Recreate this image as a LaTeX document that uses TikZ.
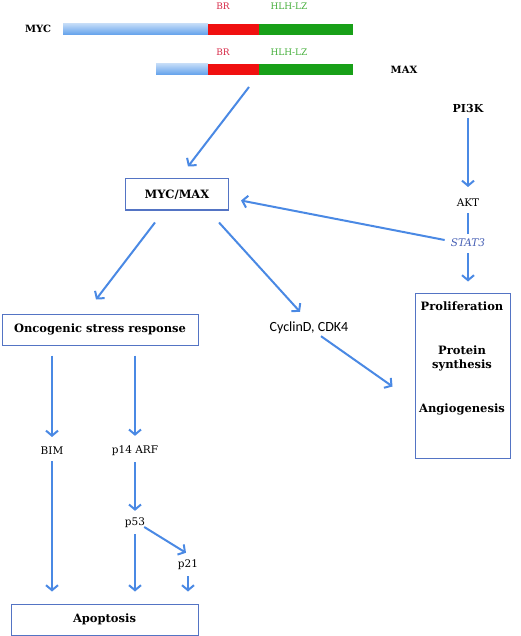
\documentclass[tikz,border=0pt]{standalone}
\usepackage{fontspec}
\setmainfont{DejaVu Serif}
\newfontfamily\calfont{Carlito}
\usetikzlibrary{arrows.meta,calc}
\definecolor{arrblue}{RGB}{74,137,228}
\definecolor{boxblue}{RGB}{84,116,196}
\definecolor{barblue}{RGB}{96,160,235}
\definecolor{barred}{RGB}{240,16,16}
\definecolor{bargreen}{RGB}{24,160,24}
\definecolor{brred}{RGB}{214,40,70}
\definecolor{hlhgreen}{RGB}{70,175,60}
\definecolor{statblue}{RGB}{70,95,180}
\begin{document}
\begin{tikzpicture}[x=1pt,y=-1pt,
  every node/.style={font=\fontsize{10.5}{12}\selectfont, inner sep=2pt},
  arr/.style={draw=arrblue, line width=2pt, -{Straight Barb[length=5pt,width=12pt]}},
  lnk/.style={draw=arrblue, line width=2pt},
  box/.style={draw=boxblue, line width=1pt, minimum height=31pt},
  hd/.style={font=\fontsize{11.5}{14}\selectfont\bfseries}]
\useasboundingbox (0,0) rectangle (520,636);
% bars
\shade[top color=barblue!40!white, bottom color=barblue] (63,24) rectangle (208,35);
\fill[barred] (208,24) rectangle (259,35);
\fill[bargreen] (259,24) rectangle (353,35);
\shade[top color=barblue!40!white, bottom color=barblue] (156,64) rectangle (208,75);
\fill[barred] (208,64) rectangle (259,75);
\fill[bargreen] (259,64) rectangle (353,75);
\node[font=\fontsize{10}{12}\selectfont\bfseries] (myc) at (38,29) {MYC};
\node[font=\fontsize{10}{12}\selectfont\bfseries] (max) at (404,70) {MAX};
\node[text=brred, font=\fontsize{9}{11}\selectfont] (brA) at (223,6) {BR};
\node[text=hlhgreen, font=\fontsize{9}{11}\selectfont] (hlhA) at (289,6) {HLH-LZ};
\node[text=brred, font=\fontsize{9}{11}\selectfont] (brB) at (223,52) {BR};
\node[text=hlhgreen, font=\fontsize{9}{11}\selectfont] (hlhB) at (289,52) {HLH-LZ};
\coordinate (maxbar) at (249,87);
% nodes
\node[box, minimum width=103pt, font=\fontsize{11.5}{14}\selectfont\bfseries] (mycmax) at (177,194.5) {MYC/MAX};
\node[font=\fontsize{11}{13}\selectfont\bfseries] (pik) at (468,108) {PI3K};
\node (akt) at (468,203) {AKT};
\node[text=statblue, font=\fontsize{10.5}{12}\selectfont\itshape] (stat) at (468,243) {STAT3};
\node[box, minimum width=95pt, minimum height=165pt] (prolif) at (462.5,375.5) {};
\node[hd] (pro) at (462,306) {Proliferation};
\node[hd, align=center] (prot) at (462,358) {Protein\\synthesis};
\node[hd] (ang) at (462,409) {Angiogenesis};
\node[box, minimum width=196pt, hd] (osr) at (100,329.5) {Oncogenic stress response};
\node[font=\calfont\fontsize{14}{16}\selectfont] (cyc) at (309,328) {CyclinD, CDK4};
\node (bim) at (52,451) {BIM};
\node (arf) at (135,451) {p14 ARF};
\node (p53) at (135,523) {p53};
\node (p21) at (188,565) {p21};
\node[box, minimum width=187pt, hd] (apop) at (104.5,619.5) {Apoptosis};
% arrows
\draw[arr] (maxbar) -- ($(mycmax.north)+(11,-12)$);
\draw[arr] ($(pik.south)+(0,4)$) -- ($(akt.north)+(0,-10)$);
\draw[lnk] ($(akt.south)+(0,4)$) -- ($(stat.north)+(0,-3)$);
\draw[arr] ($(stat.west)+(-4,-3)$) -- ($(mycmax.east)+(12,6)$);
\draw[arr] ($(stat.south)+(0,4)$) -- ($(stat |- prolif.north)+(0,-11)$);
\draw[arr] ($(mycmax.south)+(-22,12)$) -- ($(osr.north)+(-4,-14)$);
\draw[arr] ($(mycmax.south)+(42,12)$) -- ($(cyc.north)+(-9,-8)$);
\draw[arr] ($(cyc.south)+(12,0)$) -- ($(prolif.west)+(-22,11)$);
\draw[arr] ($(bim |- osr.south)+(0,10)$) -- ($(bim.north)+(0,-8)$);
\draw[arr] ($(arf |- osr.south)+(0,10)$) -- ($(arf.north)+(0,-8)$);
\draw[arr] ($(bim.south)+(0,4)$) -- ($(bim |- apop.north)+(0,-12)$);
\draw[arr] ($(arf.south)+(0,4)$) -- ($(p53.north)+(0,-5)$);
\draw[arr] ($(p53.south)+(0,4)$) -- ($(p53 |- apop.north)+(0,-12)$);
\draw[arr] ($(p53.east)+(-3,4)$) -- ($(p21.north)+(-2,-5)$);
\draw[arr] ($(p21.south)+(0,4)$) -- ($(p21 |- apop.north)+(0,-12)$);
\end{tikzpicture}
\end{document}
